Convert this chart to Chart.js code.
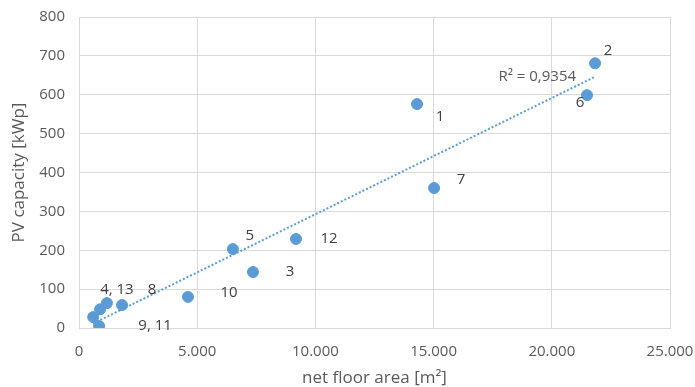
<!DOCTYPE html>
<html>
<head>
<meta charset="utf-8">
<script src="https://cdn.jsdelivr.net/npm/chart.js@4.4.1/dist/chart.umd.min.js"></script>
<style>
  html, body { margin: 0; padding: 0; background: #ffffff; }
  #wrap { width: 695px; height: 387px; position: relative; }
</style>
</head>
<body>
<div id="wrap"><canvas id="pvChart"></canvas></div>
<script>
/* ── DATA ───────────────────────────────────────────────────── */
/* Building number, net floor area [m²] and PV capacity [kWp] */
const buildingIds = ['1', '2', '3', '4', '5', '6', '7', '8', '9', '10', '11', '12', '13'];
const floorArea   = [14300, 21830, 7360, 1180, 6510, 21490, 15020, 1820, 850, 4610, 600, 9180, 890];
const pvCapacity  = [576, 681, 144, 64, 203, 599, 360, 59, 5, 80, 28, 229, 48];

/* Text shown beside each point (overlapping buildings share one label) */
const pointLabels = ['1', '2', '3', '4, 13', '5', '6', '7', '8', '9, 11', '10', '', '12', ''];

/* Trendline annotation as printed on the chart */
const r2Text = 'R² = 0,9354';

/* Axis ticks */
const xTicks = [0, 5000, 10000, 15000, 20000, 25000];
const yTicks = [0, 100, 200, 300, 400, 500, 600, 700, 800];

/* ── LABEL PLACEMENT (pixel offsets from each point) ───────── */
const labelOffsets = [
  [23, 13], [13, -13], [37, 0], [10, -13], [17, -13], [-7, 8], [27, -8],
  [30, -15], [56, 0], [41, -4], [0, 0], [33, 0], [0, 0],
];

const BLUE  = '#5b9bd5';
const GRID  = '#d9d9d9';
const TICK  = '#595959';
const FONT  = "'Open Sans', 'Liberation Sans', sans-serif";

/* ── LINEAR TRENDLINE (least squares) ─────────────────────── */
function linearFit(xs, ys) {
  const n  = xs.length;
  const mx = xs.reduce((s, v) => s + v, 0) / n;
  const my = ys.reduce((s, v) => s + v, 0) / n;
  let sxy = 0, sxx = 0;
  xs.forEach((x, i) => {
    sxy += (x - mx) * (ys[i] - my);
    sxx += (x - mx) * (x - mx);
  });
  const slope = sxy / sxx;
  return { slope, intercept: my - slope * mx };
}

const fit  = linearFit(floorArea, pvCapacity);
const xMin = Math.min(...floorArea);
const xMax = Math.max(...floorArea);
const trend = [xMin, xMax].map(x => ({ x, y: fit.slope * x + fit.intercept }));

/* German-style number format: 5.000 */
const fmtThousands = v => String(v).replace(/\B(?=(\d{3})+(?!\d))/g, '.');

/* ── PLUGIN: point labels + R² text ───────────────────────── */
const labelPlugin = {
  id: 'pointLabels',
  afterDatasetsDraw(chart) {
    const { ctx, scales } = chart;
    ctx.save();
    ctx.font = `15px ${FONT}`;
    ctx.fillStyle = '#404040';
    ctx.textAlign = 'center';
    ctx.textBaseline = 'middle';
    floorArea.forEach((x, i) => {
      if (!pointLabels[i]) return;
      const px = scales.x.getPixelForValue(x) + labelOffsets[i][0];
      const py = scales.y.getPixelForValue(pvCapacity[i]) + labelOffsets[i][1];
      ctx.fillText(pointLabels[i], px, py);
    });

    /* R² next to the trendline end */
    const ex = scales.x.getPixelForValue(trend[1].x);
    const ey = scales.y.getPixelForValue(trend[1].y);
    ctx.fillStyle = TICK;
    ctx.textAlign = 'right';
    ctx.fillText(r2Text, ex - 19, ey);
    ctx.restore();
  },
};

/* ── CHART ──────────────────────────────────────────────────── */
new Chart(document.getElementById('pvChart'), {
  type: 'scatter',
  data: {
    datasets: [
      {
        label: 'Buildings',
        data: floorArea.map((x, i) => ({ x, y: pvCapacity[i] })),
        backgroundColor: BLUE,
        borderColor: BLUE,
        pointRadius: 5.5,
        pointHoverRadius: 5.5,
        order: 1,
      },
      {
        label: 'Trend',
        type: 'line',
        data: trend,
        borderColor: BLUE,
        borderWidth: 2,
        borderDash: [2, 2],
        pointRadius: 0,
        fill: false,
        order: 2,
      },
    ],
  },
  options: {
    responsive: true,
    maintainAspectRatio: false,
    animation: false,
    layout: { padding: 0 },
    plugins: {
      legend: { display: false },
      tooltip: { enabled: false },
    },
    scales: {
      x: {
        type: 'linear',
        min: xTicks[0],
        max: xTicks[xTicks.length - 1],
        afterBuildTicks: axis => { axis.ticks = xTicks.map(value => ({ value })); },
        afterFit: axis => {
          axis.height = 59;
          axis.paddingLeft = 0;
          axis.paddingRight = 25;
        },
        grid: { color: GRID, drawTicks: false },
        border: { color: GRID },
        ticks: {
          color: TICK, padding: 15, maxRotation: 0,
          font: { family: FONT, size: 15 },
          callback: v => fmtThousands(v),
        },
        title: {
          display: true, text: 'net floor area [m²]', color: TICK,
          font: { family: FONT, size: 17, lineHeight: 1 }, padding: { top: 0, bottom: 0 },
        },
      },
      y: {
        min: yTicks[0],
        max: yTicks[yTicks.length - 1],
        afterBuildTicks: axis => { axis.ticks = yTicks.map(value => ({ value })); },
        afterFit: axis => {
          axis.width = 79;
          axis.paddingTop = 17;
          axis.paddingBottom = 0;
        },
        grid: { color: GRID, drawTicks: false },
        border: { color: GRID },
        ticks: {
          color: TICK, padding: 14,
          font: { family: FONT, size: 15 },
        },
        title: {
          display: true, text: 'PV capacity [kWp]', color: TICK,
          font: { family: FONT, size: 17, lineHeight: 1 }, padding: { top: 11, bottom: 0 },
        },
      },
    },
  },
  plugins: [labelPlugin],
});
</script>
</body>
</html>
